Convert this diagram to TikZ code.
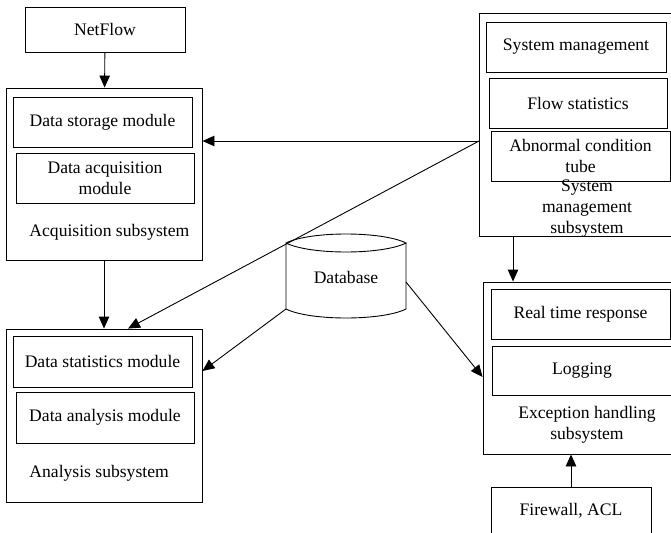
\documentclass[tikz,border=0pt]{standalone}
\usepackage{fontspec}
\setmainfont{Liberation Serif}
\usetikzlibrary{arrows.meta}
\begin{document}
\begin{tikzpicture}[x=1pt,y=-1pt,line width=0.9pt,
    every node/.style={font=\fontsize{17.6}{21}\selectfont,inner sep=2pt,align=center},
    modbox/.style={draw,minimum width=179,minimum height=50},
    sysbox/.style={draw,minimum width=196},
    arr/.style={-{Triangle[length=12pt,width=10.5pt]}}]
    \useasboundingbox (0,0) rectangle (671,532);
    \clip (0,0) rectangle (671,532);
    \node[draw,minimum width=160,minimum height=45] (netflow) at (105,29.5) {NetFlow};
    \node[sysbox,minimum height=172] (acq) at (104,174) {};
    \node[modbox] (store) at (102.5,122) {Data storage module};
    \node[modbox,minimum width=178] (acqmod) at (105,178) {Data acquisition\\module};
    \node[anchor=west] (acqtxt) at (27,232) {Acquisition subsystem};
    \node[sysbox,minimum height=173] (ana) at (104,415.5) {};
    \node[modbox,minimum height=51] (stat) at (102.5,361.5) {Data statistics module};
    \node[modbox,minimum width=178,minimum height=51] (anamod) at (105,417.5) {Data analysis module};
    \node[anchor=west] (anatxt) at (27,473) {Analysis subsystem};
    \node[draw,minimum width=201,minimum height=223] (sys) at (579.5,124.5) {};
    \node[modbox,minimum width=180] (sysman) at (576,47) {System management};
    \node[modbox,minimum width=178] (flow) at (578,103) {Flow statistics};
    \node[modbox] (abn) at (580.5,156) {Abnormal condition\\tube};
    \node (systxt) at (587,209) {System\\management\\subsystem};
    \node[draw,minimum width=197,minimum height=172] (exc) at (581.5,368) {};
    \node[modbox] (rt) at (580.5,314) {Real time response};
    \node[modbox,minimum width=180,minimum height=49] (log) at (582,370.5) {Logging};
    \node (exctxt) at (587,425) {Exception handling\\subsystem};
    \node[draw,anchor=north,minimum width=160,text height=20,text depth=50,inner ysep=8] (fw) at (571,487) {Firewall, ACL};
    \draw (286,243) .. controls (310,231) and (382,231) .. (406,243)
        .. controls (382,255) and (310,255) .. (286,243) -- (286,309)
        .. controls (310,321) and (382,321) .. (406,309) -- (406,243);
    \node (db) at (346,277) {Database};
    \coordinate (dbbl) at (286,309);
    \coordinate (dbr) at (406,282);
    \coordinate (tap) at (479,141);
    \draw[arr] (netflow) -- (acq);
    \draw[arr] (acq) -- (ana);
    \draw[arr] (tap) -- (tap -| acq.east);
    \draw[arr] (tap) -- ([xshift=24pt]ana.north);
    \draw[arr] (dbbl) -- ([yshift=44.5pt]ana.east);
    \draw[arr] (dbr) -- ([yshift=-9pt]exc.west);
    \draw[arr] ([xshift=-66.5pt]sys.south) -- ([xshift=-68.5pt]exc.north);
    \draw[arr] (fw.north) -- (fw.north |- exc.south);
\end{tikzpicture}
\end{document}
